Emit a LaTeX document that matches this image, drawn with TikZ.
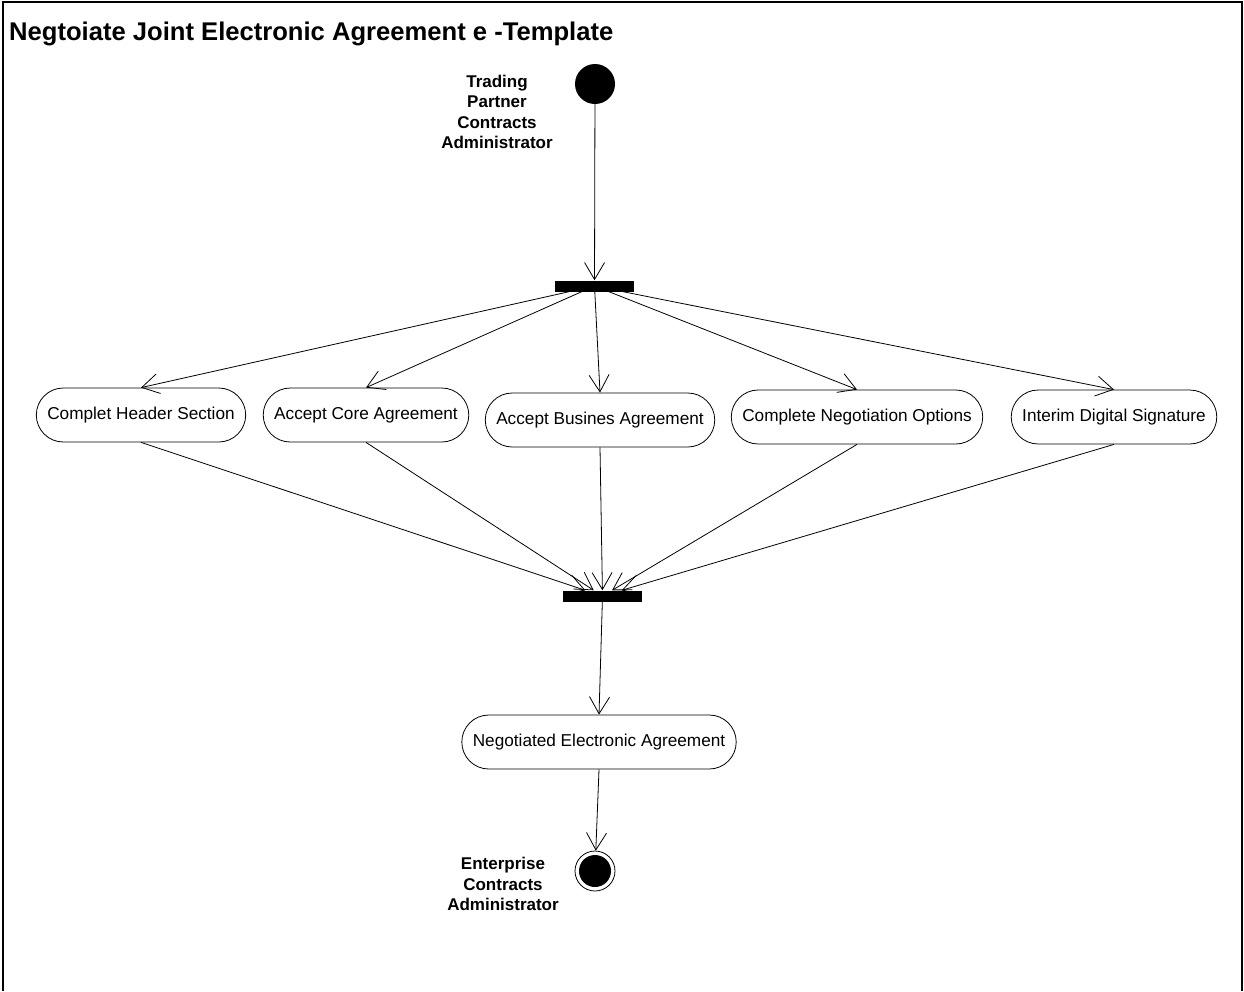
\documentclass[tikz,border=0pt]{standalone}
\usepackage{fontspec}
\setmainfont{Liberation Sans}
\usetikzlibrary{arrows.meta}

\tikzset{
  activity/.style={draw, line width=0.8pt, rounded corners=27pt, minimum height=54pt, inner xsep=11pt, font=\fontsize{17.2}{20}\selectfont},
  bar/.style={fill=black, minimum width=79pt, minimum height=11pt, inner sep=0pt},
  actor/.style={align=center, font=\bfseries\fontsize{17}{20.5}\selectfont},
  flow/.style={line width=0.8pt, -{Straight Barb[length=17pt,width=20pt,line width=0.8pt]}}
}

\begin{document}
\begin{tikzpicture}[x=1pt,y=-1pt]
  \useasboundingbox (0,0) rectangle (1244,991);
  \draw[line width=1.6pt] (3,991) -- (3,2) -- (1242,2) -- (1242,991);
  \node (title) [anchor=base west, inner sep=0pt, font=\bfseries\fontsize{25.6}{30}\selectfont] at (9,40) {Negtoiate Joint Electronic Agreement e -Template};

  \node (start) [circle, fill=black, minimum size=40pt, inner sep=0pt] at (595,84) {};
  \node (tpca) [actor] at (497,112) {Trading\\Partner\\Contracts\\Administrator};
  \node (fork) [bar] at (594.5,286) {};

  \node (hdr)  [activity] at (141,415) {Complet Header Section};
  \node (core) [activity] at (366,415) {Accept Core Agreement};
  \node (bus)  [activity] at (600,420) {Accept Busines Agreement};
  \node (neg)  [activity] at (857,417) {Complete Negotiation Options};
  \node (sig)  [activity] at (1114,417) {Interim Digital Signature};

  \node (join) [bar] at (602.5,596) {};
  \node (nea)  [activity] at (599,742) {Negotiated Electronic Agreement};

  \node (final) [circle, draw, line width=0.8pt, minimum size=40pt, inner sep=0pt,
    path picture={\fill (path picture bounding box.center) circle (16pt);}] at (595,871) {};
  \node (eca) [actor] at (503,884) {Enterprise\\Contracts\\Administrator};

  \draw[flow] (start) -- (fork);
  \foreach \act in {hdr,core,bus,neg,sig}
    \draw[flow] (fork) -- (\act.north);
  \foreach \act in {hdr,core,bus,neg,sig}
    \draw[flow] (\act.south) -- (join);
  \draw[flow] (join) -- (nea.north);
  \draw[flow] (nea.south) -- (final);
\end{tikzpicture}
\end{document}
